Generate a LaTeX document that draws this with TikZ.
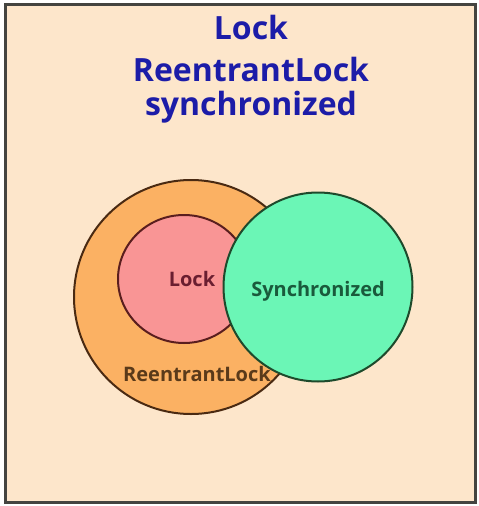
\documentclass[tikz,border=0pt]{standalone}
\usepackage{fontspec}
\setmainfont{Open Sans}
\usetikzlibrary{shapes.geometric}
\definecolor{bgpeach}{HTML}{FDE6CB}
\definecolor{framegray}{HTML}{444440}
\definecolor{titleblue}{HTML}{1C1CA8}
\definecolor{orangefill}{HTML}{FBB163}
\definecolor{orangeline}{HTML}{4A2A12}
\definecolor{pinkfill}{HTML}{F99595}
\definecolor{pinkline}{HTML}{5A1E1E}
\definecolor{greenfill}{HTML}{6BF6B6}
\definecolor{greenline}{HTML}{1E4A2C}
\definecolor{locktext}{HTML}{6A1E30}
\definecolor{synctext}{HTML}{1A5A3C}
\definecolor{reentext}{HTML}{5A3A1A}
\tikzset{
  titletext/.style={font=\bfseries\fontsize{32}{38}\selectfont, text=titleblue, align=center},
  setshape/.style={line width=2pt, inner sep=0pt},
  setlabel/.style={font=\bfseries\fontsize{20}{24}\selectfont}
}
\begin{document}
\begin{tikzpicture}[x=1pt,y=-1pt]
\useasboundingbox (0,0) rectangle (479,506);
\fill[white] (0,0) rectangle (479,506);
\node[draw=framegray, fill=bgpeach, line width=3pt, minimum width=470pt, minimum height=498pt, inner sep=0pt] (frame) at (240,253) {};
\node[titletext] (t1) at (251,27) {Lock};
\node[titletext] (t2) at (251,69) {ReentrantLock};
\node[titletext] (t3) at (251,107) {synchronized};
\node[setshape, circle, draw=orangeline, fill=orangefill, minimum size=234pt] (reen) at (191,297) {};
\node[setshape, ellipse, draw=pinkline, fill=pinkfill, minimum width=132pt, minimum height=128pt] (lock) at (184,279) {};
\node[setshape, circle, draw=greenline, fill=greenfill, minimum size=189pt] (sync) at (318,287) {};
\node[setlabel, text=locktext] (locklbl) at (192,279) {Lock};
\node[setlabel, text=synctext] (synclbl) at (318,291) {Synchronized};
\node[setlabel, text=reentext] (reenlbl) at (197,374) {ReentrantLock};
\end{tikzpicture}
\end{document}
